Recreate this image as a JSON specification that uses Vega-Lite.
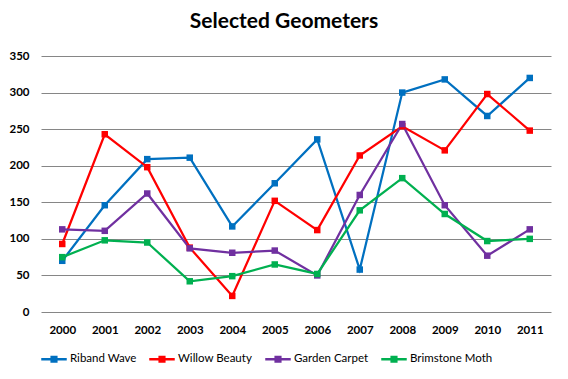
{
  "$schema": "https://vega.github.io/schema/vega-lite/v6.json",
  "width": 510,
  "height": 256,
  "autosize": {"type": "none"},
  "padding": {"left": 41, "top": 56, "right": 17, "bottom": 67},
  "background": "white",
  "title": {"text": "Selected Geometers", "fontSize": 21, "font": "Lato", "fontWeight": "bold", "color": "black", "anchor": "middle", "dx": -12, "offset": 18},
  "data": {"values": [
    {"year": "2000", "series": "Riband Wave", "value": 70},
    {"year": "2001", "series": "Riband Wave", "value": 146},
    {"year": "2002", "series": "Riband Wave", "value": 209},
    {"year": "2003", "series": "Riband Wave", "value": 211},
    {"year": "2004", "series": "Riband Wave", "value": 117},
    {"year": "2005", "series": "Riband Wave", "value": 176},
    {"year": "2006", "series": "Riband Wave", "value": 236},
    {"year": "2007", "series": "Riband Wave", "value": 58},
    {"year": "2008", "series": "Riband Wave", "value": 300},
    {"year": "2009", "series": "Riband Wave", "value": 318},
    {"year": "2010", "series": "Riband Wave", "value": 268},
    {"year": "2011", "series": "Riband Wave", "value": 320},
    {"year": "2000", "series": "Willow Beauty", "value": 93},
    {"year": "2001", "series": "Willow Beauty", "value": 243},
    {"year": "2002", "series": "Willow Beauty", "value": 198},
    {"year": "2003", "series": "Willow Beauty", "value": 88},
    {"year": "2004", "series": "Willow Beauty", "value": 22},
    {"year": "2005", "series": "Willow Beauty", "value": 152},
    {"year": "2006", "series": "Willow Beauty", "value": 112},
    {"year": "2007", "series": "Willow Beauty", "value": 214},
    {"year": "2008", "series": "Willow Beauty", "value": 254},
    {"year": "2009", "series": "Willow Beauty", "value": 221},
    {"year": "2010", "series": "Willow Beauty", "value": 298},
    {"year": "2011", "series": "Willow Beauty", "value": 248},
    {"year": "2000", "series": "Garden Carpet", "value": 113},
    {"year": "2001", "series": "Garden Carpet", "value": 111},
    {"year": "2002", "series": "Garden Carpet", "value": 162},
    {"year": "2003", "series": "Garden Carpet", "value": 87},
    {"year": "2004", "series": "Garden Carpet", "value": 81},
    {"year": "2005", "series": "Garden Carpet", "value": 84},
    {"year": "2006", "series": "Garden Carpet", "value": 50},
    {"year": "2007", "series": "Garden Carpet", "value": 160},
    {"year": "2008", "series": "Garden Carpet", "value": 257},
    {"year": "2009", "series": "Garden Carpet", "value": 146},
    {"year": "2010", "series": "Garden Carpet", "value": 77},
    {"year": "2011", "series": "Garden Carpet", "value": 113},
    {"year": "2000", "series": "Brimstone Moth", "value": 75},
    {"year": "2001", "series": "Brimstone Moth", "value": 98},
    {"year": "2002", "series": "Brimstone Moth", "value": 95},
    {"year": "2003", "series": "Brimstone Moth", "value": 42},
    {"year": "2004", "series": "Brimstone Moth", "value": 49},
    {"year": "2005", "series": "Brimstone Moth", "value": 65},
    {"year": "2006", "series": "Brimstone Moth", "value": 52},
    {"year": "2007", "series": "Brimstone Moth", "value": 139},
    {"year": "2008", "series": "Brimstone Moth", "value": 183},
    {"year": "2009", "series": "Brimstone Moth", "value": 134},
    {"year": "2010", "series": "Brimstone Moth", "value": 97},
    {"year": "2011", "series": "Brimstone Moth", "value": 100}
  ]},
  "mark": {"type": "line", "strokeWidth": 2.25, "point": {"shape": "square", "size": 42, "filled": true, "opacity": 1}},
  "encoding": {
    "x": {"field": "year", "type": "ordinal", "scale": {"paddingInner": 0, "paddingOuter": 0},
      "axis": {"title": null, "labelAngle": 0, "ticks": false, "domain": false, "grid": false, "labelFont": "Lato", "labelFontWeight": "bold", "labelFontSize": 11.5, "labelColor": "black", "labelPadding": 12}},
    "y": {"field": "value", "type": "quantitative", "scale": {"domain": [0, 350]},
      "axis": {"title": null, "values": [0, 50, 100, 150, 200, 250, 300, 350], "ticks": false, "domain": false, "gridColor": "#868686", "gridWidth": 1, "gridOpacity": 1, "labelFont": "Lato", "labelFontWeight": "bold", "labelFontSize": 11.5, "labelColor": "black", "labelPadding": 12}},
    "color": {"field": "series", "type": "nominal",
      "scale": {"domain": ["Riband Wave", "Willow Beauty", "Garden Carpet", "Brimstone Moth"], "range": ["#0070C0", "#FF0000", "#7030A0", "#00B050"]},
      "legend": {"title": null, "orient": "none", "legendX": 0, "legendY": 290, "direction": "horizontal", "columns": 4, "columnPadding": 12,
        "symbolType": "M-1,-0.09L1,-0.09L1,0.09L-1,0.09Z M-0.28,-0.28L0.28,-0.28L0.28,0.28L-0.28,0.28Z", "symbolSize": 650, "symbolStrokeWidth": 0, "symbolOpacity": 1,
        "labelFont": "Lato", "labelFontSize": 11.5, "labelColor": "black", "labelOffset": 3}}
  },
  "config": {"view": {"stroke": null}}
}
